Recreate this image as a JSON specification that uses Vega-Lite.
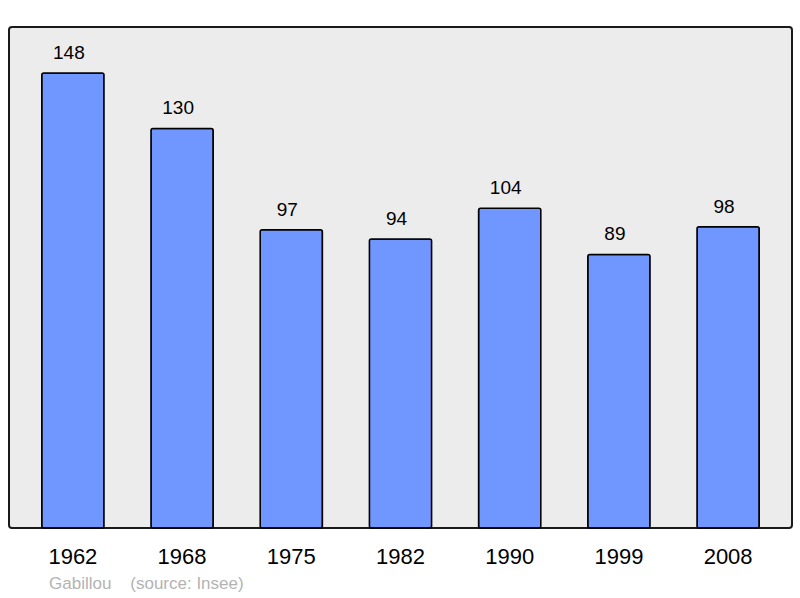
{
  "$schema": "https://vega.github.io/schema/vega-lite/v6.json",
  "autosize": "none",
  "width": 783,
  "height": 501,
  "padding": {"left": 9, "top": 27, "right": 8, "bottom": 70},
  "background": "#ffffff",
  "config": {
    "font": "Liberation Sans",
    "view": {"fill": "#ececec", "stroke": "#1a1a1a", "strokeWidth": 2, "cornerRadius": 3}
  },
  "title": {
    "text": "Gabillou\u00a0\u00a0\u00a0 (source: Insee)",
    "orient": "bottom",
    "anchor": "start",
    "dx": 40,
    "offset": 9,
    "fontSize": 17,
    "fontWeight": "normal",
    "color": "#b3b3b3"
  },
  "data": {
    "values": [
      {"year": "1962", "population": 148},
      {"year": "1968", "population": 130},
      {"year": "1975", "population": 97},
      {"year": "1982", "population": 94},
      {"year": "1990", "population": 104},
      {"year": "1999", "population": 89},
      {"year": "2008", "population": 98}
    ]
  },
  "encoding": {
    "x": {
      "field": "year",
      "type": "ordinal",
      "scale": {"paddingInner": 0.43, "paddingOuter": 0.3},
      "axis": {
        "title": null,
        "domain": false,
        "ticks": false,
        "labelAngle": 0,
        "labelFontSize": 22,
        "labelColor": "#000000",
        "labelPadding": 18
      }
    },
    "y": {
      "field": "population",
      "type": "quantitative",
      "scale": {"domain": [0, 163], "nice": false},
      "axis": null
    }
  },
  "layer": [
    {
      "mark": {"type": "bar", "fill": "#7097ff", "stroke": "#000000", "strokeWidth": 1.5, "cornerRadius": 2}
    },
    {
      "mark": {"type": "text", "baseline": "alphabetic", "dx": -4, "dy": -14, "fontSize": 19, "color": "#000000"},
      "encoding": {"text": {"field": "population", "type": "quantitative"}}
    }
  ]
}
